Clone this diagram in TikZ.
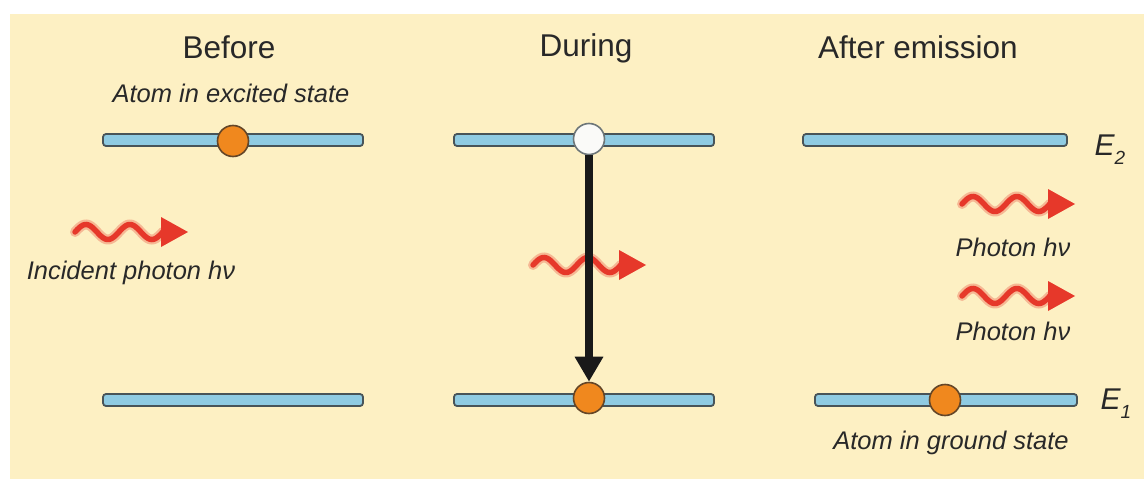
\documentclass[tikz,border=0pt]{standalone}
\usepackage{fontspec}
\setmainfont{Liberation Sans}
\usetikzlibrary{arrows.meta}
\definecolor{bg}{RGB}{253,240,195}
\definecolor{barfill}{RGB}{143,203,226}
\definecolor{barline}{RGB}{72,84,88}
\definecolor{atom}{RGB}{240,136,30}
\definecolor{atomline}{RGB}{100,70,40}
\definecolor{hole}{RGB}{250,250,248}
\definecolor{photonred}{RGB}{230,56,42}
\definecolor{txt}{RGB}{40,40,40}
\tikzset{
  bar/.style={rectangle, draw=barline, fill=barfill, line width=1.8pt, rounded corners=3pt,
    minimum height=12pt, inner sep=0pt},
  atomfull/.style={circle, draw=atomline, fill=atom, line width=1.6pt, minimum size=31pt, inner sep=0pt},
  atomempty/.style={circle, draw=barline!80, fill=hole, line width=1.6pt, minimum size=31pt, inner sep=0pt},
  title/.style={text=txt, font=\fontsize{31.5}{36}\selectfont},
  lab/.style={text=txt, font=\itshape\fontsize{25.5}{30}\selectfont},
  elab/.style={text=txt, font=\itshape\fontsize{30}{34}\selectfont},
  transition/.style={line width=8.5pt, draw=black!90, -{Triangle[width=27pt,length=25pt]}},
  photon/.pic={
    \draw[photonred, opacity=0.3, line width=10pt, line cap=round]
      plot[domain=0:88, samples=80, smooth] (\x, {-7.5*sin(\x*8.2)});
    \draw[photonred, line width=5.5pt, line cap=round]
      plot[domain=0:88, samples=80, smooth] (\x, {-7.5*sin(\x*8.2)});
    \fill[photonred] (86,-15) -- (113,0) -- (86,15) -- cycle;
  }
}
\begin{document}
\begin{tikzpicture}[x=1pt, y=-1pt]
\useasboundingbox (0,0) rectangle (1144,479);
\fill[white] (0,0) rectangle (1144,479);
\fill[bg] (10,14) rectangle (1144,479);

% titles
\node[title] (tbefore) at (229,47) {Before};
\node[title] (tduring) at (586,48) {During};
\node[title] (tafter) at (918,47) {After emission};

% energy levels
\node[bar, minimum width=260pt] (b1t) at (233,140) {};
\node[bar, minimum width=260pt] (b2t) at (584,140) {};
\node[bar, minimum width=264pt] (b3t) at (935,140) {};
\node[bar, minimum width=260pt] (b1b) at (233,400) {};
\node[bar, minimum width=260pt] (b2b) at (584,400) {};
\node[bar, minimum width=262pt] (b3b) at (946,400) {};

% level labels
\node[elab] (e2) at (1110,150) {E\raisebox{-0.3em}{\fontsize{19}{20}\selectfont 2}};
\node[elab] (e1) at (1116,404) {E\raisebox{-0.3em}{\fontsize{19}{20}\selectfont 1}};

% atoms
\node[atomfull] (a1) at (233,141) {};
\node[atomempty] (a2t) at (589,139) {};
\node[atomfull] (a2b) at (589,398) {};
\node[atomfull] (a3b) at (945,400) {};

% labels
\node[lab] (lexc) at (231,93) {Atom in excited state};
\node[lab] (linc) at (131,273) {Incident photon hν};
\node[lab] (lph1) at (1013,247) {Photon hν};
\node[lab] (lph2) at (1013,331) {Photon hν};
\node[lab] (lgnd) at (951,443) {Atom in ground state};

% photons
\pic at (75,232) {photon};
\pic at (533,265) {photon};
\pic at (962,204) {photon};
\pic at (962,296) {photon};

% transition
\draw[transition] (a2t) -- (a2b);
\end{tikzpicture}
\end{document}
